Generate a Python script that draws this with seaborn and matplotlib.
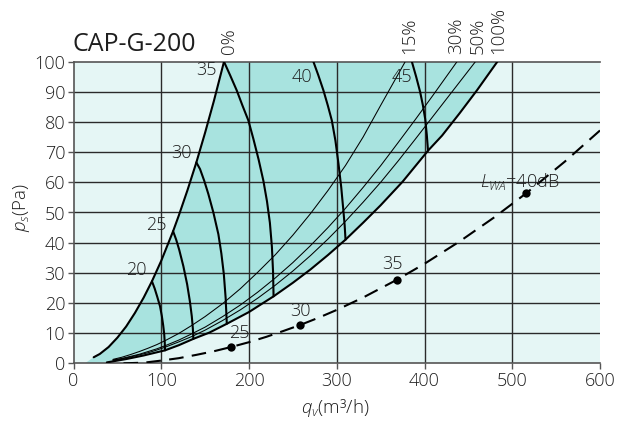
import matplotlib
matplotlib.use("Agg")
import matplotlib.pyplot as plt
import seaborn as sns

# ---------------- data ----------------
title = "CAP-G-200"
x_ticks = [0, 100, 200, 300, 400, 500, 600]
y_ticks = [0, 10, 20, 30, 40, 50, 60, 70, 80, 90, 100]

# damper-position curves (q_v in m3/h, p_s in Pa)
c0_x = [23, 30, 40, 50, 60, 70, 80, 89.4, 100, 113.5, 120, 130, 140, 150, 160, 171.5]
c0_y = [2.0, 3.1, 5.4, 8.5, 12.2, 16.7, 21.8, 27.2, 34, 43.8, 49, 57.5, 66.6, 76.5, 87, 100]
c15_x = [45, 55, 65, 75, 85, 95, 105, 120, 135, 150, 170, 190, 210, 230, 250, 270, 290, 310, 330, 350, 378]
c15_y = [1.3, 2.0, 2.9, 3.9, 5.0, 6.2, 7.6, 9.9, 12.6, 15.5, 19.8, 24.7, 30.2, 36.0, 42.5, 49.6, 57.3, 65.6, 75.0, 85.5, 100]
c30_x = [45, 55, 65, 75, 85, 95, 105, 120, 135, 150, 170, 190, 210, 230, 250, 270, 290, 310, 330, 350, 370, 390, 410, 437]
c30_y = [1.1, 1.6, 2.3, 3.0, 3.9, 4.8, 5.9, 7.7, 9.8, 12.0, 15.5, 19.3, 23.6, 28.3, 33.4, 39.0, 45.0, 51.4, 58.3, 65.5, 73.2, 81.0, 89.0, 100]
c50_x = [45, 55, 65, 75, 85, 95, 105, 120, 135, 150, 170, 190, 210, 230, 250, 270, 290, 310, 330, 350, 370, 390, 410, 430, 458]
c50_y = [1.0, 1.5, 2.1, 2.8, 3.5, 4.4, 5.4, 7.1, 8.9, 11.0, 14.2, 17.7, 21.6, 25.9, 30.6, 35.7, 41.2, 47.1, 53.4, 60.0, 67.1, 74.5, 82.0, 89.5, 100]
c100_x = [38, 50, 60, 70, 80, 90, 104.3, 120, 136.6, 155, 174.7, 200, 228, 250, 270, 290, 310, 330, 350, 375, 404, 420, 440, 460, 483]
c100_y = [0.3, 0.9, 1.4, 2.0, 2.6, 3.3, 4.3, 6.0, 8.1, 10.2, 13.1, 17.0, 22.2, 26.7, 31.1, 35.9, 41.0, 46.6, 52.4, 60.2, 70.5, 75.5, 82.9, 90.6, 100]
fill_start = (13, 0)

curve_labels = ["0%", "15%", "30%", "50%", "100%"]
curve_label_x = [177, 382.6, 436, 460.6, 484.4]

# constant sound-power curves
db_values = ["20", "25", "30", "35", "40", "45"]
db_x = [
    [89.4, 92.5, 95.5, 98.6, 100.6, 102.2, 103.4, 104.0, 104.3],
    [113.5, 117, 120.5, 125.2, 129.5, 132.6, 134.8, 136.0, 136.6],
    [140, 144.2, 149, 153.7, 159.4, 165.1, 168.5, 171.3, 173.4, 174.7],
    [171.5, 178.5, 186, 192.5, 199.3, 205, 211, 216.4, 220.5, 223.8, 226.1, 227.4, 228],
    [273.4, 279, 284.8, 289.8, 294.4, 298.5, 302, 305.1, 307.6, 309.0, 310],
    [385.6, 390.5, 395, 398.2, 400.8, 402.6, 404],
]
db_y = [
    [27.2, 24.8, 22, 18.9, 15.8, 12.6, 9.6, 6.8, 4.3],
    [43.8, 41, 37.6, 32.2, 26.2, 20.6, 15.6, 11.6, 8.1],
    [66.6, 64.4, 60.5, 56.1, 50, 42.8, 36.4, 29.6, 21.6, 13.1],
    [100, 95.5, 90.5, 85.5, 80.5, 74.4, 67.5, 60.5, 53.7, 46.6, 38.6, 30.4, 22.2],
    [100, 95.5, 90.5, 85.5, 80.5, 73.8, 66.1, 58.4, 50.5, 45.8, 41],
    [100, 95, 90, 85.5, 81, 75.8, 70.5],
]
db_label_x = [71.3, 94, 122.6, 151, 260, 374]
db_label_y = [30.9, 45.9, 69.8, 97.2, 94.8, 95]

# L_WA reference (dashed) line
lwa_x = [57, 80, 100, 120, 140, 160, 179.6, 200, 220, 240, 258.3, 280, 300, 330, 368.5, 400, 440, 480, 516, 560, 600]
lwa_y = [0.0, 0.2, 0.9, 1.7, 2.8, 4.0, 5.4, 7.0, 8.8, 10.8, 12.7, 15.2, 17.7, 21.8, 27.7, 33.0, 40.4, 48.5, 56.4, 66.9, 77.2]
lwa_pt_x = [179.6, 258.3, 368.5, 516]
lwa_pt_y = [5.4, 12.7, 27.7, 56.4]
lwa_labels = ["25", "30", "35", "$L_{WA}$=40dB"]
lwa_label_x = [188.7, 258.3, 363.5, 509]
lwa_label_y = [10.2, 17.4, 32.8, 60.4]

# ---------------- styling ----------------
sns.set_style("ticks")
plt.rcParams["font.family"] = ["Open Sans", "DejaVu Sans"]
plt.rcParams["font.weight"] = "light"
plt.rcParams["mathtext.fontset"] = "custom"
plt.rcParams["mathtext.it"] = "Open Sans:italic:light"
plt.rcParams["mathtext.rm"] = "Open Sans:light"

BG = "#e5f6f5"
FILL = "#a8e3df"
TXT = "#1e1e1e"
FS = 13

fig = plt.figure(figsize=(6.27, 4.23), dpi=100)
ax = fig.add_axes([73.5 / 627, 59.7 / 423, 526.5 / 627, 301.6 / 423])
ax.set_facecolor(BG)

# shaded operating region
poly_x = [fill_start[0]] + c0_x + c100_x[::-1] + [fill_start[0]]
poly_y = [fill_start[1]] + c0_y + c100_y[::-1] + [fill_start[1]]
ax.fill(poly_x, poly_y, color=FILL, lw=0, zorder=1)

# grid
for xv in x_ticks[1:-1]:
    ax.axvline(xv, color="#2a2a2a", lw=1.0, zorder=2)
for yv in y_ticks[1:-1]:
    ax.axhline(yv, color="#2a2a2a", lw=1.0, zorder=2)

def line(xs, ys, lw, **kw):
    sns.lineplot(x=xs, y=ys, sort=False, estimator=None, color="black",
                 lw=lw, ax=ax, zorder=3, **kw)

line(c0_x, c0_y, 1.5)
line(c100_x, c100_y, 1.5)
for cx, cy in [(c15_x, c15_y), (c30_x, c30_y), (c50_x, c50_y)]:
    line(cx, cy, 0.75)
for xs, ys in zip(db_x, db_y):
    line(xs, ys, 1.5)

line(lwa_x, lwa_y, 1.5, dashes=False, linestyle=(0, (7, 4)))
sns.scatterplot(x=lwa_pt_x, y=lwa_pt_y, color="black", s=36, ax=ax, zorder=4,
                edgecolor="black", linewidth=0)

for t, xv, yv in zip(db_values, db_label_x, db_label_y):
    ax.text(xv, yv, t, ha="center", va="center", fontsize=FS, color=TXT, zorder=5)
for t, xv, yv in zip(lwa_labels, lwa_label_x, lwa_label_y):
    ax.text(xv, yv, t, ha="center", va="center", fontsize=FS, color=TXT, zorder=5)
for t, xv in zip(curve_labels, curve_label_x):
    ax.text(xv, 102.6, t, rotation=90, ha="center", va="bottom", fontsize=13.5,
            color=TXT, clip_on=False)

ax.set_xlim(0, 600)
ax.set_ylim(0, 100)
ax.set_xticks(x_ticks)
ax.set_yticks(y_ticks)
ax.tick_params(axis="both", labelsize=FS, colors="#555555", labelcolor=TXT,
               length=4, width=1.0, direction="out", pad=2)
for s in ["left", "bottom", "top"]:
    ax.spines[s].set_color("#555555")
    ax.spines[s].set_linewidth(1.2)
ax.spines["right"].set_visible(False)
ax.set_xlabel("")
ax.set_ylabel("")

fig.text(335 / 627, 1 - 408 / 423, "$q_v$(m³/h)", ha="center", va="center",
         fontsize=13.5, color=TXT)
fig.text(21.7 / 627, 1 - 207.5 / 423, "$p_s$(Pa)", ha="center", va="center",
         rotation=90, fontsize=13.5, color=TXT)
fig.text(72.7 / 627, 1 - 50.7 / 423, title, ha="left", va="baseline",
         fontsize=18, color=TXT, fontweight="normal")

fig.savefig("out.png", dpi=100)
